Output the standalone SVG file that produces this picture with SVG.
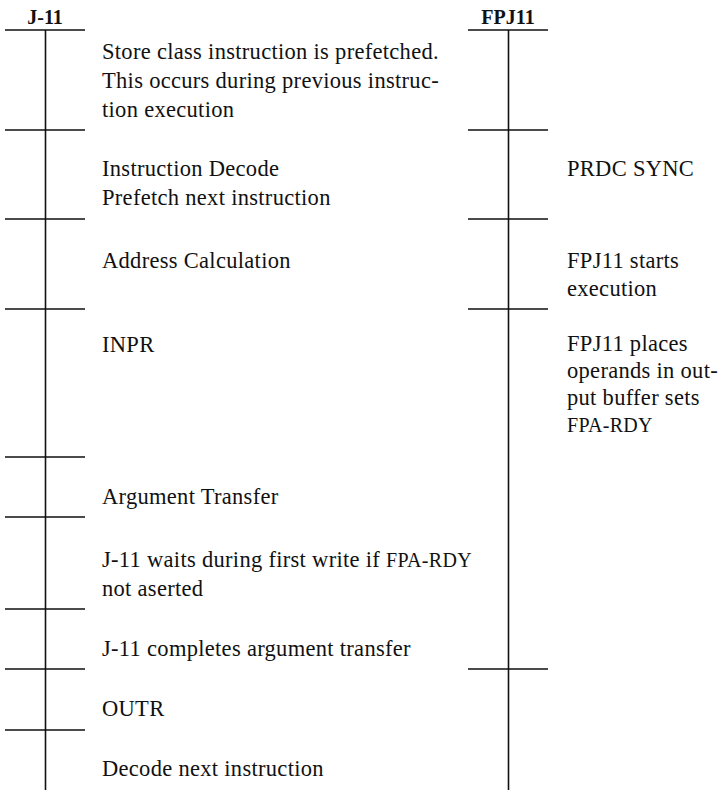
<svg xmlns="http://www.w3.org/2000/svg" width="720" height="791" viewBox="0 0 720 791">
<style>
.ax{stroke:#111;stroke-width:1.6;fill:none}
.t{font-family:"Liberation Serif",serif;font-size:22.5px;letter-spacing:0.3px;fill:#111}
.h{font-family:"Liberation Serif",serif;font-size:20px;font-weight:bold;fill:#111;text-anchor:middle}
.sc{font-size:20px}
</style>
<rect width="720" height="791" fill="#fff"/>
<g id="j11-axis">
<text class="h" x="45" y="24">J-11</text>
<line class="ax" x1="45.5" y1="30" x2="45.5" y2="790"/>
<path class="ax" d="M5 30H85M5 130H85M5 219H85M5 309H85M5 457H85M5 517H85M5 609H85M5 669H85M5 730H85"/>
</g>
<g id="fpj11-axis">
<text class="h" x="508" y="24">FPJ11</text>
<line class="ax" x1="508.5" y1="30" x2="508.5" y2="790"/>
<path class="ax" d="M468 30H548M468 130H548M468 219H548M468 309H548M468 669H548"/>
</g>
<g id="j11-steps">
<text class="t" x="102" y="59">Store class instruction is prefetched.</text>
<text class="t" x="102" y="88">This occurs during previous instruc-</text>
<text class="t" x="102" y="117">tion execution</text>
<text class="t" x="102" y="176">Instruction Decode</text>
<text class="t" x="102" y="205">Prefetch next instruction</text>
<text class="t" x="102" y="268">Address Calculation</text>
<text class="t" x="102" y="352">INPR</text>
<text class="t" x="102" y="504">Argument Transfer</text>
<text class="t" x="102" y="567">J-11 waits during first write if <tspan class="sc">FPA-RDY</tspan></text>
<text class="t" x="102" y="596">not aserted</text>
<text class="t" x="102" y="656">J-11 completes argument transfer</text>
<text class="t" x="102" y="716">OUTR</text>
<text class="t" x="102" y="776">Decode next instruction</text>
</g>
<g id="fpj11-steps">
<text class="t" x="567" y="176">PRDC SYNC</text>
<text class="t" x="567" y="268">FPJ11 starts</text>
<text class="t" x="567" y="296">execution</text>
<text class="t" x="567" y="351">FPJ11 places</text>
<text class="t" x="567" y="378">operands in out-</text>
<text class="t" x="567" y="405">put buffer sets</text>
<text class="t" x="567" y="432"><tspan class="sc">FPA-RDY</tspan></text>
</g>
</svg>
